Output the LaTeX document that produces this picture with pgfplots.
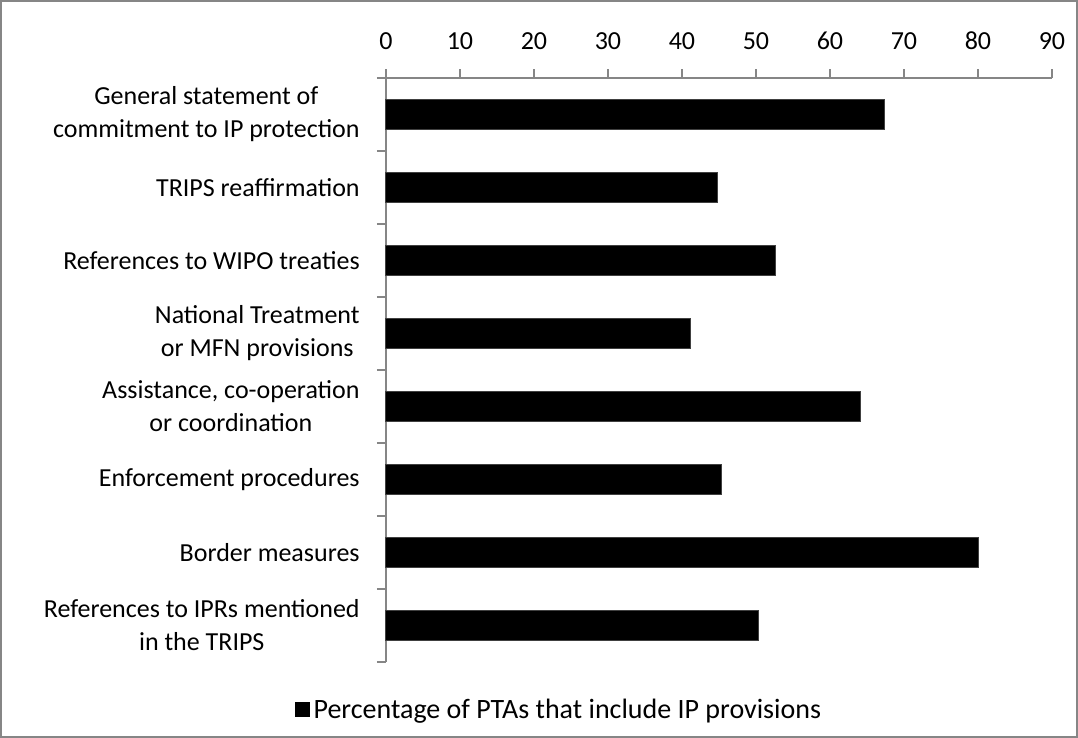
\documentclass[border=0pt]{standalone}
\usepackage{pgfplots}
\pgfplotsset{compat=1.18}
\usepackage{fontspec}
\setmainfont{Carlito}
\definecolor{axgray}{HTML}{868686}
\definecolor{bargray}{HTML}{404040}
\begin{document}
\begin{tikzpicture}
\begin{axis}[
  scale only axis, width=333pt, height=292pt,
  xbar, bar width=15pt,
  xmin=0, xmax=90, xtick={0,10,...,90},
  ymin=-0.5, ymax=7.5, y dir=reverse,
  ytick={0,...,7},
  yticklabels={{General statement of\\commitment to IP protection},
    {TRIPS reaffirmation},
    {References to WIPO treaties},
    {National Treatment\\or MFN provisions},
    {Assistance, co-operation\\or coordination},
    {Enforcement procedures},
    {Border measures},
    {References to IPRs mentioned\\in the TRIPS}},
  axis x line=top, axis y line=left,
  axis line style={-, draw=axgray, line width=0.6pt},
  tick style={draw=axgray, line width=0.6pt},
  major y tick style={draw=none},
  minor ytick={-0.5,0.5,...,7.5},
  tick align=outside,
  major tick length=4.5pt, minor tick length=4.5pt,
  /pgf/number format/assume math mode=true,
  yticklabel style={align=center, font=\fontsize{13}{16.5}\selectfont, inner sep=0pt, xshift=-8.5pt},
  xticklabel style={font=\fontsize{13}{16}\selectfont, yshift=6pt},
  legend style={at={(0.261,-0.082)}, anchor=center, draw=none, font=\fontsize{14}{17}\selectfont, inner sep=0pt},
  legend image code/.code={\fill[black] (0pt,-3.5pt) rectangle (7pt,3.5pt);},
  clip=false,
]
\addplot[fill=black, draw=bargray, line width=0.5pt] coordinates {
  (67.3,0) (44.8,1) (52.6,2) (41.2,3) (64.1,4) (45.3,5) (80.1,6) (50.3,7)};
\addlegendentry{Percentage of PTAs that include IP provisions}
\end{axis}
\draw[axgray, line width=1pt] (-192.5pt,-37.5pt) rectangle (345.5pt,330.5pt);
\end{tikzpicture}
\end{document}
